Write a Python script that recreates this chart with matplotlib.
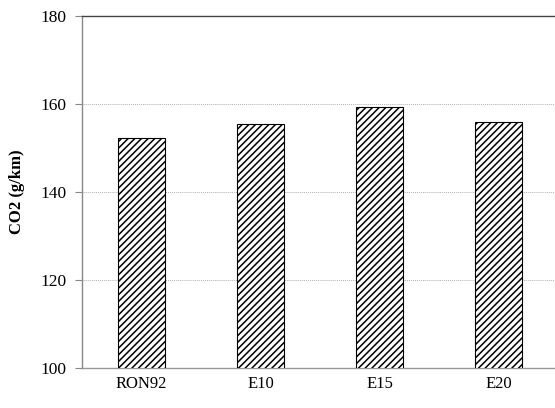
import matplotlib
matplotlib.use('Agg')
import matplotlib.pyplot as plt

# Data
fuels = ['RON92', 'E10', 'E15', 'E20']
co2 = [152.2, 155.4, 159.3, 156.0]

plt.rcParams['font.family'] = ['Liberation Serif', 'DejaVu Serif']
plt.rcParams['hatch.linewidth'] = 1.1

fig = plt.figure(figsize=(5.55, 4.08), dpi=100)
ax = fig.add_axes([82 / 555, 40 / 408, 476 / 555, 352 / 408])

ax.bar(range(len(fuels)), co2, width=0.4, bottom=0,
       color='white', edgecolor='black', hatch='/////', linewidth=0.8, zorder=3)

ax.set_xlim(-0.5, len(fuels) - 0.5)
ax.set_ylim(100, 180)
ax.set_yticks([100, 120, 140, 160, 180])
ax.set_xticks(range(len(fuels)))
ax.set_xticklabels(fuels)
ax.tick_params(axis='x', length=0, pad=6, labelsize=12)
ax.tick_params(axis='y', length=5, width=0.8, color='#888888', pad=6, labelsize=12.5)
ax.yaxis.grid(True, linestyle=(0, (1, 1)), color='#b0b0b0', linewidth=0.7)
ax.set_axisbelow(True)

ax.spines['right'].set_visible(False)
ax.spines['top'].set_color('#444444')
ax.spines['left'].set_color('#888888')
ax.spines['bottom'].set_color('#999999')
for s in ax.spines.values():
    s.set_linewidth(1.0)

ax.set_ylabel('CO2 (g/km)', fontsize=12, fontweight='bold', labelpad=11)

fig.savefig('out.png', dpi=100)
